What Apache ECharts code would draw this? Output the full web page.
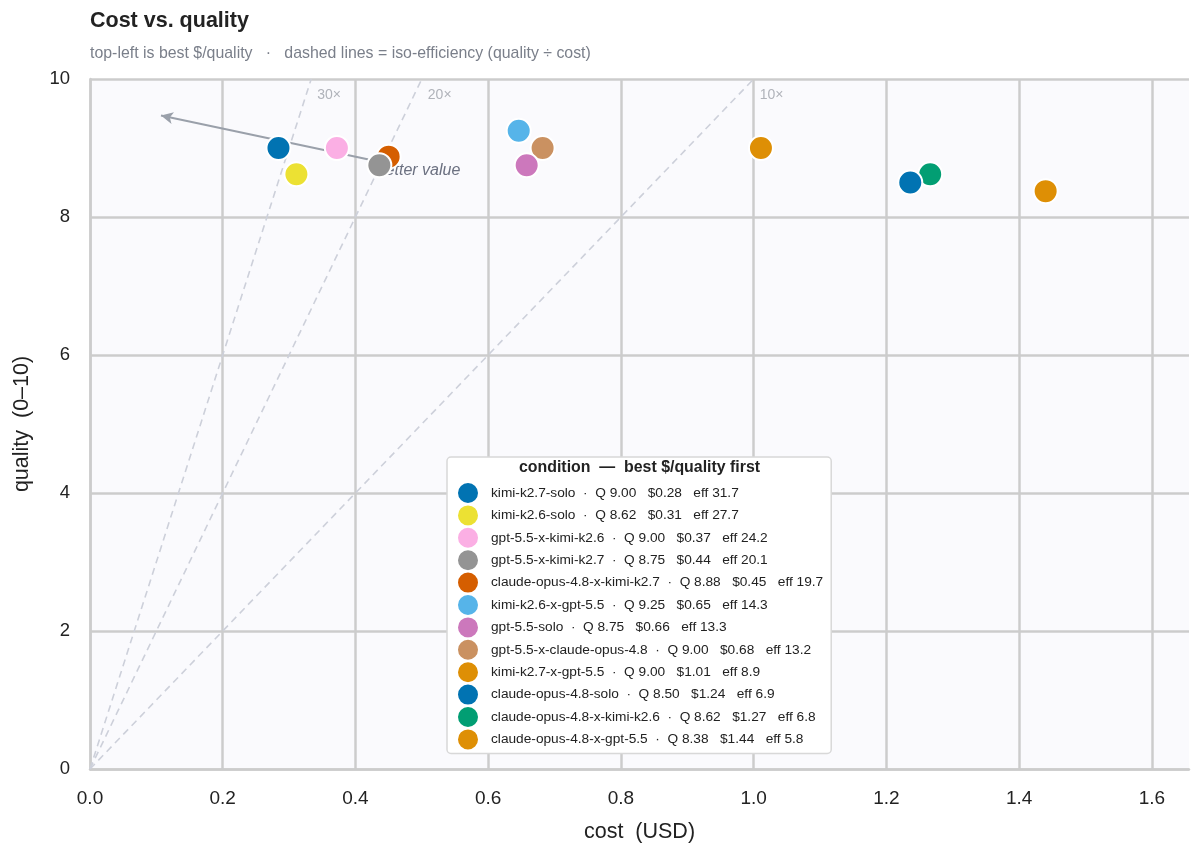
<!DOCTYPE html>
<html><head><meta charset="utf-8">
<script src="https://cdn.jsdelivr.net/npm/echarts@6/dist/echarts.min.js"></script>
<style>html,body{margin:0;padding:0;background:#fff}#c{width:1200px;height:856px}</style>
</head><body><div id="c"></div>
<script>
const conditions = ["kimi-k2.7-solo","kimi-k2.6-solo","gpt-5.5-x-kimi-k2.6","gpt-5.5-x-kimi-k2.7","claude-opus-4.8-x-kimi-k2.7","kimi-k2.6-x-gpt-5.5","gpt-5.5-solo","gpt-5.5-x-claude-opus-4.8","kimi-k2.7-x-gpt-5.5","claude-opus-4.8-solo","claude-opus-4.8-x-kimi-k2.6","claude-opus-4.8-x-gpt-5.5"];
const cost = [0.284,0.311,0.372,0.436,0.450,0.646,0.658,0.682,1.011,1.236,1.266,1.440];
const quality = [9.00,8.62,9.00,8.75,8.875,9.25,8.75,9.00,9.00,8.50,8.62,8.375];
const colors = ["#0173B2","#ECE133","#FBAFE4","#949494","#D55E00","#56B4E9","#CC78BC","#CA9161","#DE8F05","#0173B2","#029E73","#DE8F05"];
const isoLevels = [30,20,10];
const xTicks = [0,0.2,0.4,0.6,0.8,1.0,1.2,1.4,1.6];
const yTicks = [0,2,4,6,8,10];
const arrowFrom = [0.436,8.80], arrowTo = [0.107,9.47];
const arrowTextPos = [0.432,8.68];
const arrowText = "better value";

const FONT = "Liberation Sans, Arial, sans-serif";
const chart = echarts.init(document.getElementById('c'));
const xMax = 1.656;

const series = [];
isoLevels.forEach(k => {
  series.push({
    type:'line', silent:true, z:1, symbol:'none',
    data:[[0,0],[10/k,10]],
    lineStyle:{color:'#cdd0da', width:1.6, type:[7,5]},
    markPoint:{symbol:'circle', symbolSize:0, silent:true,
      data:[{coord:[10/k,10]}],
      label:{show:true, position:'right', distance:0, offset:[6,16], formatter:k+'×', color:'#b0b3ba', fontSize:14, fontFamily:FONT}}
  });
});
series.push({
  type:'line', silent:true, z:2, symbol:'none', data:[],
  markLine:{silent:true, symbol:['none','arrow'], symbolSize:[9,12], label:{show:false},
    lineStyle:{color:'#9aa0aa', width:2, type:'solid'},
    data:[[{coord:arrowFrom},{coord:arrowTo}]]},
  markPoint:{symbol:'circle', symbolSize:0, silent:true,
    data:[{coord:arrowTextPos}],
    label:{show:true, position:'right', distance:0, formatter:arrowText, color:'#6b7080', fontSize:16, fontStyle:'italic', fontFamily:FONT}}
});
conditions.forEach((name,i) => {
  series.push({
    type:'scatter', name:name, z:30 - i, symbol:'circle', symbolSize:24,
    data:[[cost[i], quality[i]]],
    itemStyle:{color:colors[i], borderColor:'#fff', borderWidth:2, opacity:1}
  });
});

const legendText = {};
conditions.forEach((n,i)=>{
  legendText[n] = n + '  ·  Q ' + quality[i].toFixed(2) + '   $' + cost[i].toFixed(2) + '   eff ' + (quality[i]/cost[i]).toFixed(1);
});

chart.setOption({
  animation:false,
  backgroundColor:'#fff',
  title:[{text:'Cost vs. quality', left:85, top:5, textStyle:{fontFamily:FONT, fontSize:21.5, fontWeight:'bold', color:'#222'}},
         {text:'top-left is best $/quality   ·   dashed lines = iso-efficiency (quality ÷ cost)', left:85, top:41, textStyle:{fontFamily:FONT, fontSize:15.9, fontWeight:'normal', color:'#7a7f8a'}}],
  grid:{left:90, right:11, top:79, bottom:87, show:true, backgroundColor:'#fafafd', borderWidth:0},
  xAxis:{type:'value', min:0, max:xMax, interval:0.2,
    name:'cost  (USD)', nameLocation:'middle', nameGap:52, nameTextStyle:{fontFamily:FONT, fontSize:21.5, color:'#222'},
    axisLine:{show:true, lineStyle:{color:'#cccccc', width:2.5}},
    axisTick:{show:false},
    axisLabel:{fontFamily:FONT, fontSize:19, color:'#222', margin:20, showMaxLabel:false,
      formatter:v=>{const t=xTicks.find(x=>Math.abs(x-v)<1e-6); return t===undefined?'':t.toFixed(1);}},
    splitLine:{show:true, showMaxLine:false, lineStyle:{color:'#cccccc', width:2.5}}},
  yAxis:{type:'value', min:0, max:10, interval:2,
    name:'quality  (0–10)', nameLocation:'middle', nameGap:57, nameTextStyle:{fontFamily:FONT, fontSize:21.5, color:'#222'},
    axisLine:{show:true, lineStyle:{color:'#cccccc', width:2.5}},
    axisTick:{show:false},
    axisLabel:{fontFamily:FONT, fontSize:18.5, color:'#222', margin:20,
      formatter:v=>{const t=yTicks.find(x=>Math.abs(x-v)<1e-6); return t===undefined?'':String(t);}},
    splitLine:{show:true, lineStyle:{color:'#cccccc', width:2.5}}},
  legend:{orient:'vertical', left:447, top:457, padding:[24,8,2,9],
    backgroundColor:'#fff', borderColor:'#d8d8d8', borderWidth:1.5, borderRadius:4,
    itemWidth:22, itemHeight:22, itemGap:-1.6, icon:'circle',
    data:conditions,
    formatter:n=>legendText[n],
    textStyle:{fontFamily:FONT, fontSize:13.7, color:'#222', padding:[0,0,0,7]}},
  graphic:[{type:'text', z:100, left:519, top:460, style:{text:'condition  —  best $/quality first', fill:'#222', font:'bold 15.9px '+FONT}}],
  series:series
});
</script></body></html>
